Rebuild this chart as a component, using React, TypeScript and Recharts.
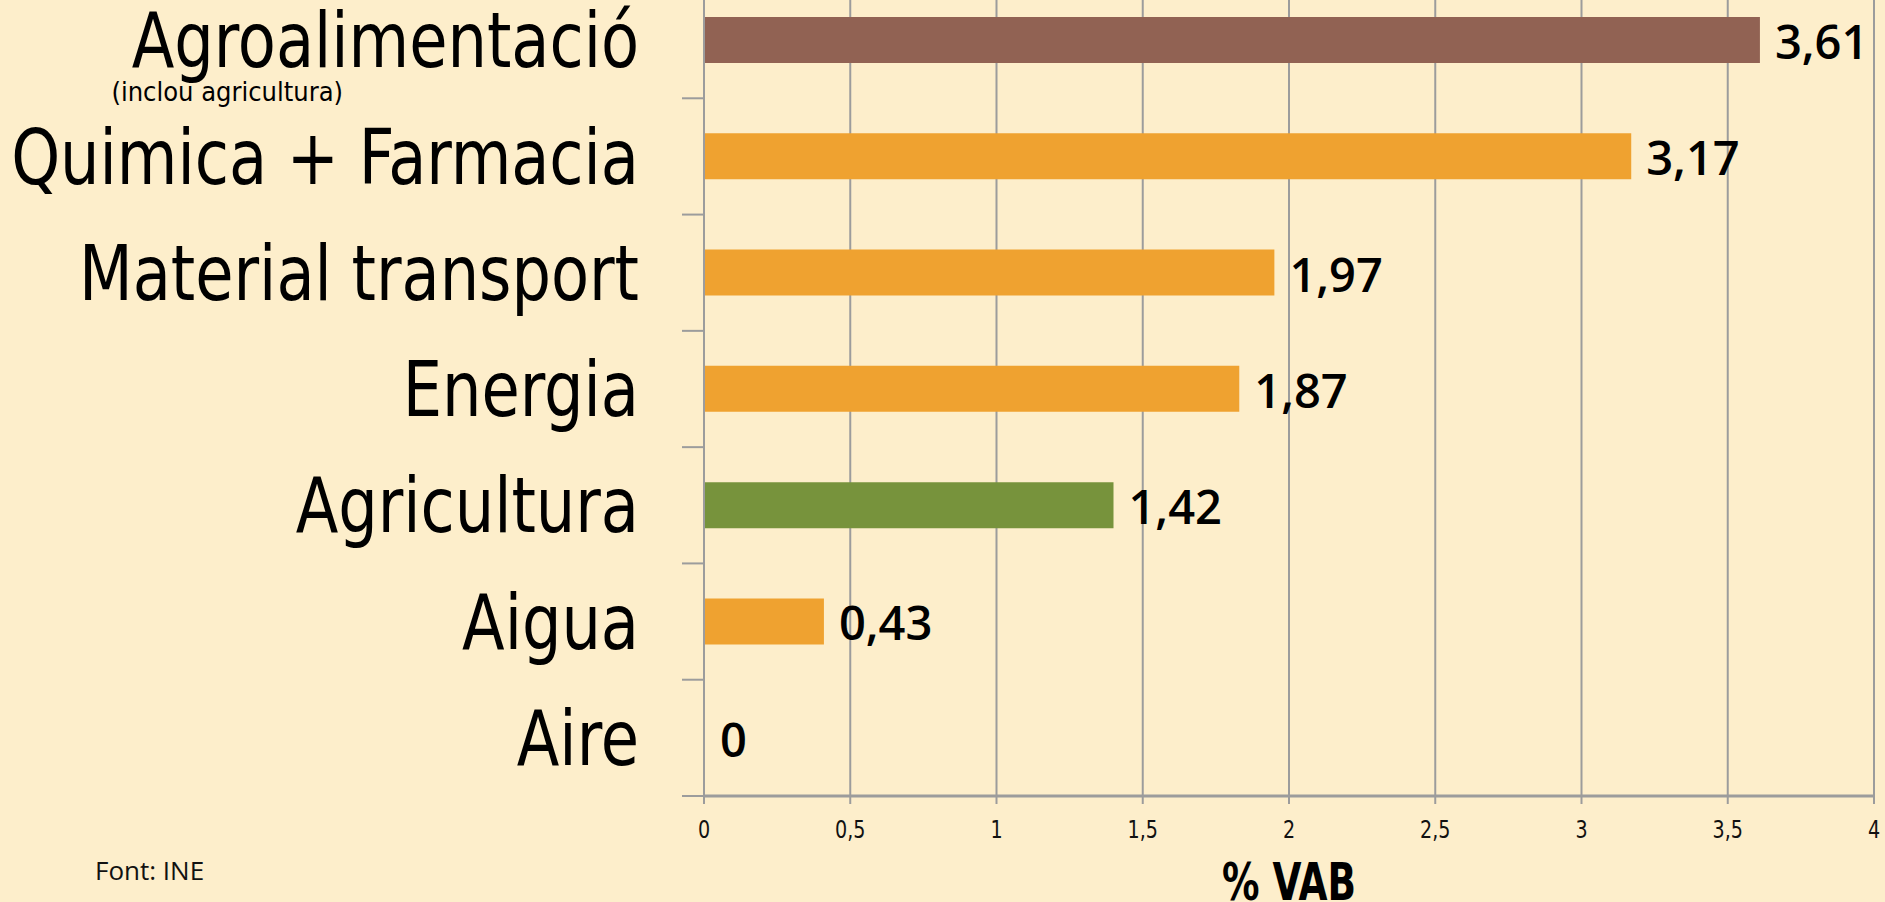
import React from 'react';
import { BarChart, Bar, XAxis, YAxis, CartesianGrid, Cell, LabelList } from 'recharts';

const categories = ['Agroalimentació', 'Quimica + Farmacia', 'Material transport', 'Energia', 'Agricultura', 'Aigua', 'Aire'];
const barValues = [3.61, 3.17, 1.95, 1.83, 1.4, 0.41, 0];
const valueLabels = ['3,61', '3,17', '1,97', '1,87', '1,42', '0,43', '0'];
const barColors = ['#916253', '#EFA230', '#EFA230', '#EFA230', '#77933C', '#EFA230', '#EFA230'];
const xTicks = [0, 0.5, 1, 1.5, 2, 2.5, 3, 3.5, 4];

const BG = '#FDEECB';
const GRID = '#9c9c9c';
const NARROW = "'DejaVu Sans Condensed', 'DejaVu Sans', sans-serif";

const CHART_W = 1885;
const CHART_H = 920;
const AXIS_H = 106;
const Y_AXIS_W = 704;
const BAND = (CHART_H - AXIS_H) / categories.length;

const data = categories.map((name, i) => ({ name, value: barValues[i], label: valueLabels[i], color: barColors[i] }));

function CategoryTick(props: any) {
  const { y, payload, index } = props;
  return (
    <g>
      <line x1={682} x2={Y_AXIS_W} y1={y + BAND / 2} y2={y + BAND / 2} stroke={GRID} strokeWidth={2} />
      <text
        transform={`translate(639, ${y + 1}) scale(0.91, 1)`}
        textAnchor="end"
        dominantBaseline="central"
        fontFamily={NARROW}
        fontSize={76}
        fill="#000"
      >
        {payload.value}
      </text>
      {index === 0 && (
        <text x={343} y={y + 61} textAnchor="end" fontFamily={NARROW} fontSize={27} fill="#000">
          (inclou agricultura)
        </text>
      )}
    </g>
  );
}

function ValueTick(props: any) {
  const { x, payload } = props;
  return (
    <text
      transform={`translate(${x}, ${CHART_H - AXIS_H + 33}) scale(0.85, 1)`}
      textAnchor="middle"
      dominantBaseline="central"
      fontFamily={NARROW}
      fontSize={25}
      fill="#111"
    >
      {String(payload.value).replace('.', ',')}
    </text>
  );
}

function BarValue(props: any) {
  const { x, y, width, height, index } = props;
  return (
    <text x={x + width + 15} y={y + height / 2 + 1} dominantBaseline="central" fontFamily="'Open Sans', sans-serif" fontWeight={600} fontSize={47} fill="#000">
      {valueLabels[index]}
    </text>
  );
}

export default function App() {
  return (
    <div style={{ position: 'fixed', left: 0, top: 0, width: 1885, height: 902, overflow: 'hidden', background: BG }}>
      <div style={{ position: 'absolute', left: 0, top: -18 }}>
        <BarChart width={CHART_W} height={CHART_H} data={data} layout="vertical" margin={{ top: 0, right: 11, bottom: 0, left: 0 }}>
          <CartesianGrid horizontal={false} stroke={GRID} strokeWidth={2} />
          <XAxis
            type="number"
            domain={[0, 4]}
            ticks={xTicks}
            interval={0}
            height={AXIS_H}
            tick={<ValueTick />}
            tickSize={8}
            axisLine={{ stroke: GRID, strokeWidth: 3 }}
            tickLine={{ stroke: GRID, strokeWidth: 2 }}
          />
          <YAxis
            type="category"
            dataKey="name"
            width={Y_AXIS_W}
            interval={0}
            tick={<CategoryTick />}
            tickLine={false}
            axisLine={{ stroke: GRID, strokeWidth: 2 }}
          />
          <Bar dataKey="value" barSize={46} minPointSize={1} isAnimationActive={false}>
            {data.map((d, i) => (
              <Cell key={`cell-${i}`} fill={d.color} fillOpacity={d.value === 0 ? 0 : 1} />
            ))}
            <LabelList dataKey="label" content={<BarValue />} />
          </Bar>
        </BarChart>
      </div>
      <div
        style={{
          position: 'absolute',
          left: 1139,
          width: 300,
          top: 856,
          textAlign: 'center',
          fontFamily: NARROW,
          fontWeight: 700,
          fontSize: 52,
          lineHeight: '52px',
          color: '#000',
          transform: 'scaleX(0.8)',
        }}
      >
        % VAB
      </div>
      <div style={{ position: 'absolute', left: 95, top: 852, fontFamily: "'Open Sans', sans-serif", fontSize: 26, lineHeight: '36px', color: '#111' }}>
        Font: INE
      </div>
    </div>
  );
}
